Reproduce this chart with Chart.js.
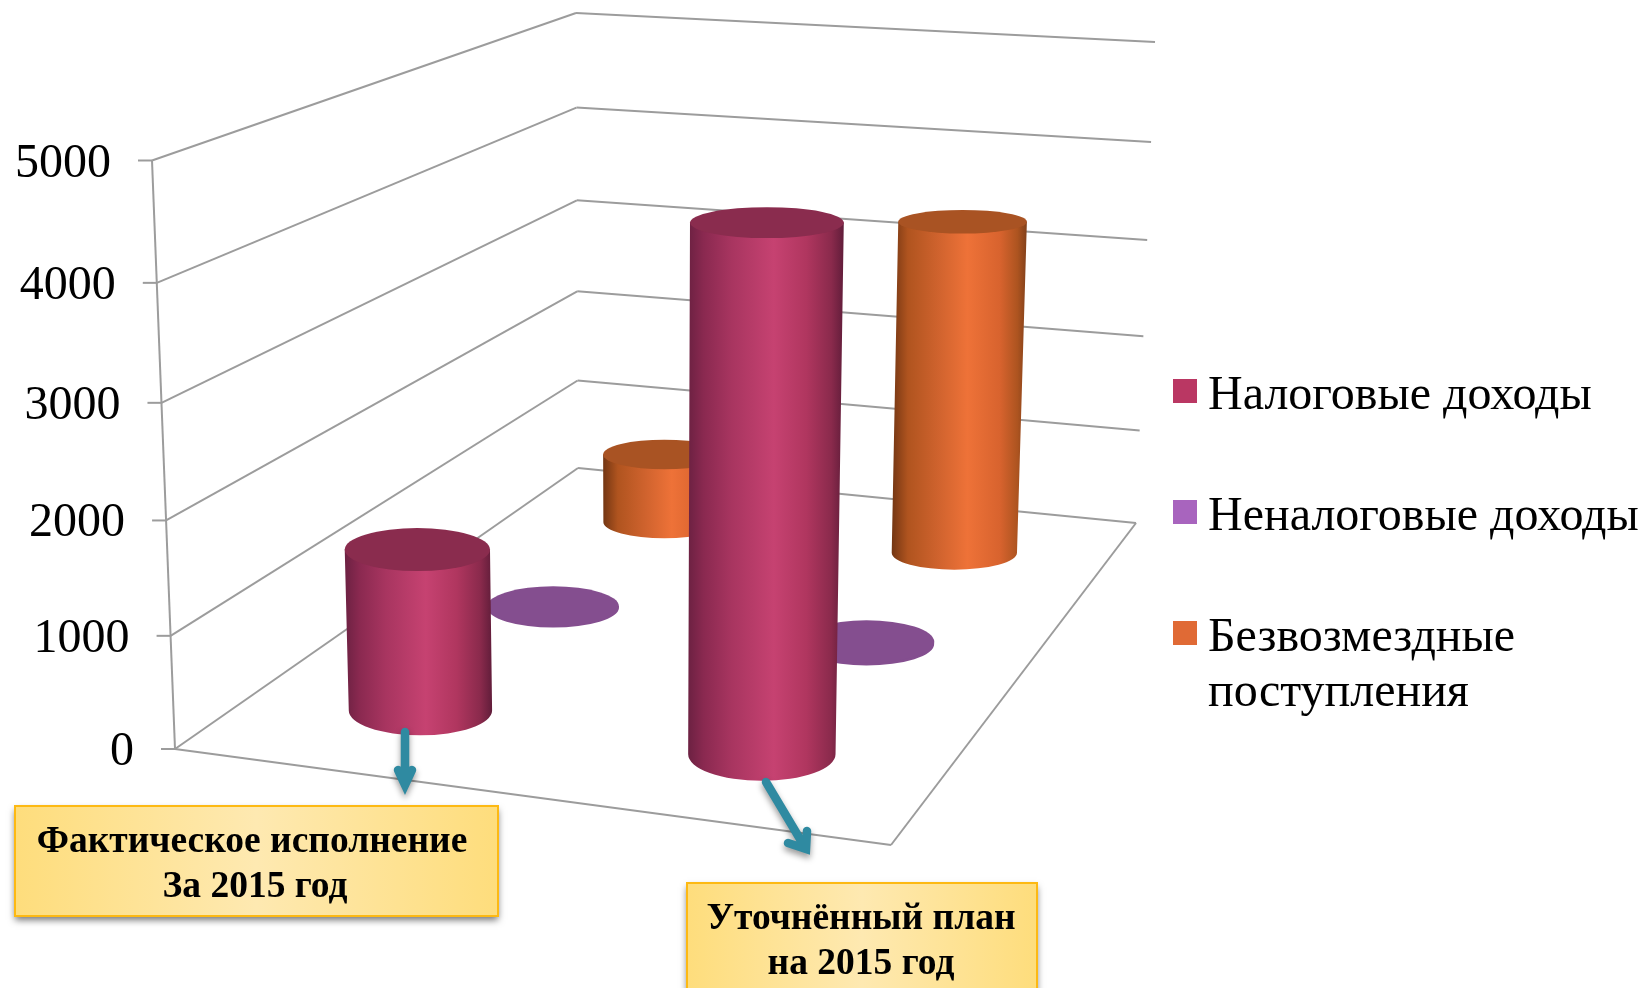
<!DOCTYPE html>
<html lang="ru">
<head>
<meta charset="utf-8">
<title>Доходы за 2015 год</title>
<script src="https://cdn.jsdelivr.net/npm/chart.js@4"></script>
<style>
  html, body { margin: 0; padding: 0; background: #fff; }
  canvas { display: block; }
</style>
</head>
<body>
<canvas id="income-chart" width="1645" height="988"></canvas>
<script>
// Chart values
const categories = [
  ['Фактическое исполнение', 'За 2015 год'],
  ['Уточнённый план', 'на 2015 год']
];
const seriesNames = ['Налоговые доходы', 'Неналоговые доходы', 'Безвозмездные\nпоступления'];
const taxIncome = [1465, 4550];
const nonTaxIncome = [15, 25];
const grants = [735, 3400];
const valueTicks = [0, 1000, 2000, 3000, 4000, 5000];

// Corners of the 3D box on screen (floor and top plane)
const floorBox = { fl: [175, 749], fr: [891, 845], bl: [578, 468], br: [1136, 523] };
const topBox = { fl: [152, 160.5], fr: [904, 218], bl: [576, 13], br: [1155, 42] };
const seriesDepth = [0.21, 0.565, 0.86];
const seriesShift = [-0.0145, -0.01, -0.004];

// Colours for each series
const seriesStyles = [
  {
    legend: '#ba3763', top: '#8a2c4e',
    side: [[0, '#6c2142'], [0.1, '#8a2950'], [0.28, '#a83560'], [0.55, '#c64271'], [0.76, '#b0365f'], [0.92, '#8a2a4c'], [1, '#611d3a']]
  },
  {
    legend: '#a864be', top: '#844e8f',
    side: [[0, '#844e8f'], [1, '#844e8f']]
  },
  {
    legend: '#e06a35', top: '#a95323',
    side: [[0, '#733613'], [0.12, '#b0541f'], [0.35, '#d0632e'], [0.56, '#ee7238'], [0.8, '#d8632e'], [0.93, '#ad5420'], [1, '#82401a']]
  }
];

const gridColor = '#9c9c9c';
const serif = '"Liberation Serif", "Times New Roman", serif';

function lerp(a, b, t) {
  return [a[0] + (b[0] - a[0]) * t, a[1] + (b[1] - a[1]) * t];
}

// The vertical axis is slightly compressed by the perspective
function heightFraction(v) {
  return v / (v + (1 - v) * 1.05);
}

// Box coordinates (0..1 each) to a point on screen
function project(u, z, v) {
  const bottom = lerp(lerp(floorBox.fl, floorBox.fr, u), lerp(floorBox.bl, floorBox.br, u), z);
  const top = lerp(lerp(topBox.fl, topBox.fr, u), lerp(topBox.bl, topBox.br, u), z);
  return lerp(bottom, top, heightFraction(v));
}

function line(ctx, a, b) {
  ctx.beginPath();
  ctx.moveTo(a[0], a[1]);
  ctx.lineTo(b[0], b[1]);
  ctx.stroke();
}

// Walls, floor, ticks and tick labels of the value axis
function drawFrame(chart) {
  const ctx = chart.ctx;
  const yScale = chart.scales.y;
  const area = chart.chartArea;
  ctx.save();
  ctx.strokeStyle = gridColor;
  ctx.lineWidth = 2;

  line(ctx, project(0, 0, 0), project(0, 0, 1));
  line(ctx, project(0, 0, 0), project(1, 0, 0));
  line(ctx, project(1, 0, 0), project(1, 1, 0));

  ctx.fillStyle = '#000';
  ctx.font = '48px ' + serif;
  ctx.textAlign = 'right';
  ctx.textBaseline = 'alphabetic';
  yScale.ticks.forEach(tick => {
    const v = (area.bottom - yScale.getPixelForValue(tick.value)) / area.height;
    const front = project(0, 0, v);
    line(ctx, front, project(0, 1, v));
    line(ctx, project(0, 1, v), project(1, 1, v));
    line(ctx, [front[0] - 14, front[1]], front);
    ctx.fillText(tick.label, front[0] - 41, front[1] + 16);
  });
  ctx.restore();
}

// One cylinder, placed from the bar element the library worked out
function drawCylinder(chart, bar, seriesIndex) {
  const ctx = chart.ctx;
  const area = chart.chartArea;
  const style = seriesStyles[seriesIndex];
  const z = seriesDepth[seriesIndex];
  const u = (bar.x - area.left) / area.width + seriesShift[seriesIndex];
  const v = (area.bottom - bar.y) / area.height;
  const radius = bar.width / area.width / 2 * (1 - 0.055 * (0.75 - u));
  const depthFactor = 0.095 - 0.047 * z;

  const ellipseAt = height => {
    const center = project(u, z, height);
    const planeWidth = project(1, z, height)[0] - project(0, z, height)[0];
    const planeDepth = project(u, 0, height)[1] - project(u, 1, height)[1];
    return { x: center[0], y: center[1], rx: planeWidth * radius, ry: planeDepth * depthFactor };
  };
  const base = ellipseAt(0);
  const top = ellipseAt(v);

  const left = Math.min(base.x - base.rx, top.x - top.rx);
  const right = Math.max(base.x + base.rx, top.x + top.rx);
  const sideFill = ctx.createLinearGradient(left, 0, right, 0);
  style.side.forEach(stop => sideFill.addColorStop(stop[0], stop[1]));

  ctx.save();
  ctx.fillStyle = sideFill;
  ctx.beginPath();
  ctx.moveTo(top.x - top.rx, top.y);
  ctx.lineTo(base.x - base.rx, base.y);
  ctx.ellipse(base.x, base.y, base.rx, base.ry, 0, Math.PI, 0, true);
  ctx.lineTo(top.x + top.rx, top.y);
  ctx.closePath();
  ctx.fill();

  ctx.fillStyle = style.top;
  ctx.beginPath();
  ctx.ellipse(top.x, top.y, top.rx, top.ry, 0, 0, Math.PI * 2);
  ctx.fill();
  ctx.restore();
}

// Legend, the library's own cannot keep the square on the first of two lines
function drawLegend(chart) {
  const ctx = chart.ctx;
  ctx.save();
  ctx.font = '48px ' + serif;
  ctx.textAlign = 'left';
  ctx.textBaseline = 'alphabetic';
  chart.data.datasets.forEach((dataset, i) => {
    const rowY = 409 + i * 121;
    ctx.fillStyle = seriesStyles[i].legend;
    ctx.fillRect(1173, rowY - 30, 24, 24);
    ctx.fillStyle = '#000';
    seriesNames[i].split('\n').forEach((text, n) => {
      ctx.fillText(text, 1208, rowY + n * 55);
    });
  });
  ctx.restore();
}

// Yellow caption box for a category
function drawCallout(chart, lines, box) {
  const ctx = chart.ctx;
  ctx.save();
  const fill = ctx.createLinearGradient(box.x, 0, box.x + box.w, 0);
  fill.addColorStop(0, '#fedd7c');
  fill.addColorStop(0.5, '#fee9b1');
  fill.addColorStop(1, '#fedd7c');
  ctx.shadowColor = 'rgba(0, 0, 0, 0.55)';
  ctx.shadowBlur = 7;
  ctx.shadowOffsetY = 4;
  ctx.fillStyle = fill;
  ctx.fillRect(box.x, box.y, box.w, box.h);
  ctx.shadowColor = 'transparent';
  ctx.strokeStyle = '#fdb913';
  ctx.lineWidth = 2;
  ctx.strokeRect(box.x, box.y, box.w, box.h);

  ctx.fillStyle = '#000';
  ctx.font = 'bold 37.5px ' + serif;
  ctx.textAlign = 'center';
  ctx.textBaseline = 'alphabetic';
  lines.forEach((text, n) => {
    ctx.fillText(text, box.textX[n], box.baseline + n * 45);
  });
  ctx.restore();
}

// Teal arrow from a cylinder down to its caption
function drawArrow(ctx, from, tip, wingA, wingB) {
  ctx.save();
  ctx.strokeStyle = '#2f8aa1';
  ctx.lineWidth = 8.5;
  ctx.lineCap = 'round';
  ctx.lineJoin = 'miter';
  ctx.shadowColor = 'rgba(0, 0, 0, 0.4)';
  ctx.shadowBlur = 6;
  ctx.shadowOffsetY = 4;
  ctx.beginPath();
  ctx.moveTo(from[0], from[1]);
  ctx.lineTo(tip[0], tip[1]);
  ctx.moveTo(wingA[0], wingA[1]);
  ctx.lineTo(tip[0], tip[1]);
  ctx.lineTo(wingB[0], wingB[1]);
  ctx.stroke();
  ctx.restore();
}

const cylinderPlugin = {
  id: 'cylinders',
  beforeDatasetsDraw(chart) {
    drawFrame(chart);
  },
  beforeDatasetDraw(chart, args) {
    args.meta.data.forEach(bar => drawCylinder(chart, bar, args.index));
    return false;
  },
  afterDraw(chart) {
    const labels = chart.data.labels;
    drawLegend(chart);
    drawArrow(chart.ctx, [405, 732], [405, 785], [398, 770], [412, 770]);
    drawArrow(chart.ctx, [766, 782], [806, 849], [788, 843], [807, 831]);
    drawCallout(chart, labels[0], { x: 15, y: 806, w: 483, h: 110, textX: [252, 255], baseline: 852 });
    drawCallout(chart, labels[1], { x: 687, y: 883, w: 350, h: 120, textX: [861, 861], baseline: 929 });
  }
};

function initializeChart() {
  const ctx = document.getElementById('income-chart').getContext('2d');
  const seriesValues = [taxIncome, nonTaxIncome, grants];
  return new Chart(ctx, {
    type: 'bar',
    data: {
      labels: categories,
      datasets: seriesValues.map((values, i) => ({
        label: seriesNames[i].replace('\n', ' '),
        data: values,
        backgroundColor: seriesStyles[i].legend
      }))
    },
    options: {
      responsive: false,
      animation: false,
      events: [],
      grouped: false,
      categoryPercentage: 1,
      barPercentage: 0.432,
      layout: { padding: 0 },
      scales: {
        x: { display: false },
        y: {
          display: false,
          min: valueTicks[0],
          max: valueTicks[valueTicks.length - 1],
          ticks: { stepSize: valueTicks[1] - valueTicks[0], callback: value => String(value) }
        }
      },
      plugins: {
        legend: { display: false },
        tooltip: { enabled: false }
      }
    },
    plugins: [cylinderPlugin]
  });
}

initializeChart();
</script>
</body>
</html>
